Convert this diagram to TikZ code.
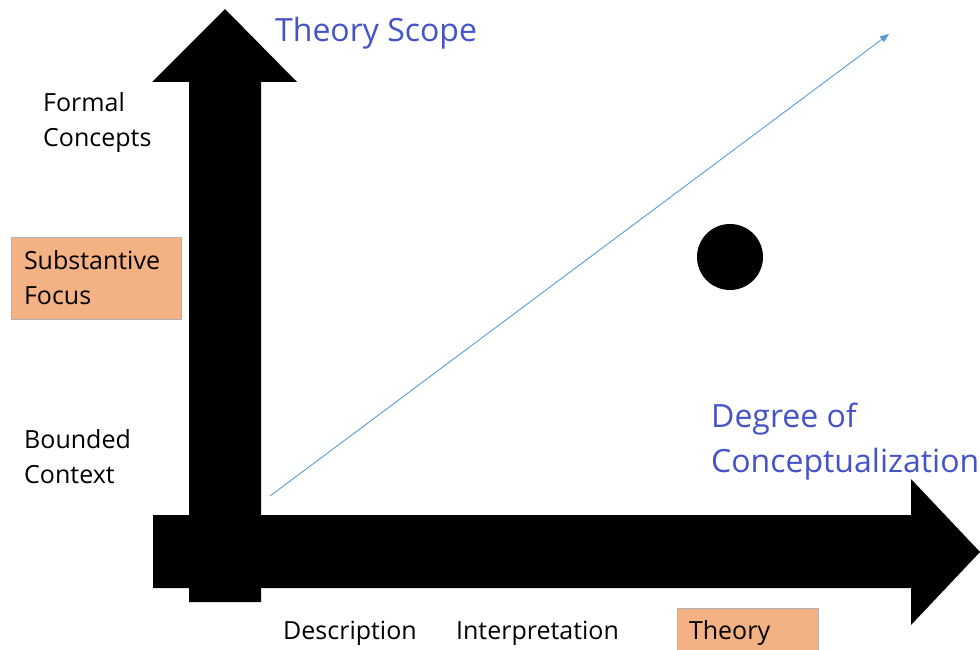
\documentclass[tikz,border=0pt]{standalone}
\usepackage{fontspec}
\setmainfont{Open Sans}
\usetikzlibrary{arrows.meta}
\definecolor{axisblue}{RGB}{68,84,200}
\definecolor{linkblue}{RGB}{91,155,213}
\definecolor{boxorange}{RGB}{244,177,131}
\tikzset{
  bigarrow/.style={fill=black,draw=none},
  lbl/.style={font=\fontsize{25}{35}\selectfont,align=left,inner sep=0pt,anchor=west},
  bluelbl/.style={font=\fontsize{32}{45}\selectfont,align=left,inner sep=0pt,anchor=west,text=axisblue},
  hilite/.style={fill=boxorange,draw=black!30,line width=0.6pt,font=\fontsize{25}{35}\selectfont,align=left},
}
\begin{document}
\begin{tikzpicture}[x=1pt,y=-1pt]
\useasboundingbox (0,0) rectangle (980,650);
% vertical axis arrow
\fill[bigarrow] (189,602) -- (189,82) -- (152,82) -- (225,9) -- (297,82) -- (261,82) -- (261,602) -- cycle;
% horizontal axis arrow
\fill[bigarrow] (153,515) -- (911,515) -- (911,479) -- (980,552) -- (911,625) -- (911,588) -- (153,588) -- cycle;
% thin diagonal arrow
\coordinate (ls) at (270,496);
\coordinate (le) at (889,34);
\draw[linkblue,line width=0.9pt,-{Triangle[length=9pt,width=7pt]}] (ls) -- (le);
% dot
\node[circle,fill=black,minimum size=66pt,inner sep=0pt] (dot) at (730,257) {};
% labels
\node[bluelbl] (scope) at (275,33) {Theory Scope};
\node[bluelbl] (degree) at (711,441.5) {Degree of\\Conceptualization};
\node[lbl] (formal) at (43,122.5) {Formal\\Concepts};
\node[hilite,minimum width=170pt,minimum height=82pt,text width=144pt,inner xsep=13pt] (subst) at (96,278) {Substantive\\Focus};
\node[lbl] (bounded) at (24,457) {Bounded\\Context};
\node[lbl,anchor=center] (desc) at (350,633) {Description};
\node[lbl,anchor=center] (interp) at (537.5,633) {Interpretation};
\node[hilite,minimum width=141pt,minimum height=50pt,text width=117pt,inner xsep=12pt] (theory) at (747.5,633) {Theory};
\end{tikzpicture}
\end{document}
